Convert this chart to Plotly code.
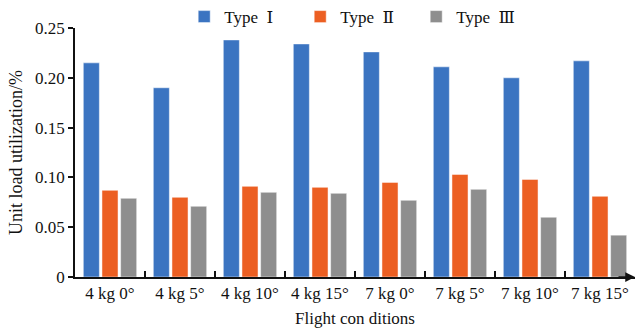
import plotly.graph_objects as go

# Flight conditions (payload and angle) and unit-load utilization per tether type
conditions = ["4 kg 0°", "4 kg 5°", "4 kg 10°", "4 kg 15°",
              "7 kg 0°", "7 kg 5°", "7 kg 10°", "7 kg 15°"]
type_1 = [0.215, 0.190, 0.238, 0.234, 0.226, 0.211, 0.200, 0.217]
type_2 = [0.087, 0.080, 0.091, 0.090, 0.095, 0.103, 0.098, 0.081]
type_3 = [0.079, 0.071, 0.085, 0.084, 0.077, 0.088, 0.060, 0.042]
series_names = ["Type  Ⅰ", "Type  Ⅱ", "Type  Ⅲ"]
colors = ["#3B74C1", "#EC5F22", "#8E8E8E"]
y_ticks = [0, 0.05, 0.10, 0.15, 0.20, 0.25]
y_tick_text = ["0", "0.05", "0.10", "0.15", "0.20", "0.25"]

FONT = "Liberation Serif, DejaVu Serif, Times New Roman, serif"

fig = go.Figure()
for name, vals, col in zip(series_names, [type_1, type_2, type_3], colors):
    fig.add_trace(go.Bar(
        x=conditions, y=vals, name=name,
        marker=dict(color=col, line=dict(color="rgba(255,255,255,0.6)", width=0.8)),
    ))

fig.update_layout(
    width=637, height=329,
    margin=dict(l=75, r=2, t=28, b=52, autoexpand=False),
    paper_bgcolor="white", plot_bgcolor="white",
    barmode="group", bargap=0.2, bargroupgap=0.14,
    font=dict(family=FONT, size=17, color="#111"),
    legend=dict(orientation="h", x=0.195, xanchor="left", y=1.044, yanchor="middle",
                font=dict(family=FONT, size=17), itemwidth=30,
                entrywidth=71, entrywidthmode="pixels",
                bgcolor="rgba(0,0,0,0)", traceorder="normal"),
    xaxis=dict(
        type="category", tickson="boundaries", ticks="inside", ticklen=6,
        tickcolor="#111", tickwidth=1.5,
        showline=True, linecolor="#111", linewidth=1.5,
        showgrid=False, range=[-0.5, 7.5],
        tickfont=dict(family=FONT, size=17),
        title=dict(text="Flight con ditions", font=dict(family=FONT, size=17), standoff=10),
    ),
    yaxis=dict(
        range=[0, 0.25], tickvals=y_ticks, ticktext=y_tick_text,
        ticks="outside", ticklen=5, tickcolor="#111", tickwidth=1.5,
        showline=True, linecolor="#111", linewidth=1.5,
        showgrid=False, zeroline=False,
        tickfont=dict(family=FONT, size=17),
        title=dict(text="Unit load utilization/%", font=dict(family=FONT, size=18), standoff=8),
    ),
)

# Arrowheads on the ends of both axes
fig.add_annotation(x=0, xref="paper", y=0.253, yref="y", ax=0, ay=18,
                   text="", showarrow=True, arrowhead=2, arrowsize=1.3,
                   arrowwidth=1.5, arrowcolor="#111")
fig.add_annotation(x=1.0, xref="paper", y=0, yref="y", ax=-18, ay=0,
                   text="", showarrow=True, arrowhead=2, arrowsize=1.3,
                   arrowwidth=1.5, arrowcolor="#111")

fig.write_html("out.html")
